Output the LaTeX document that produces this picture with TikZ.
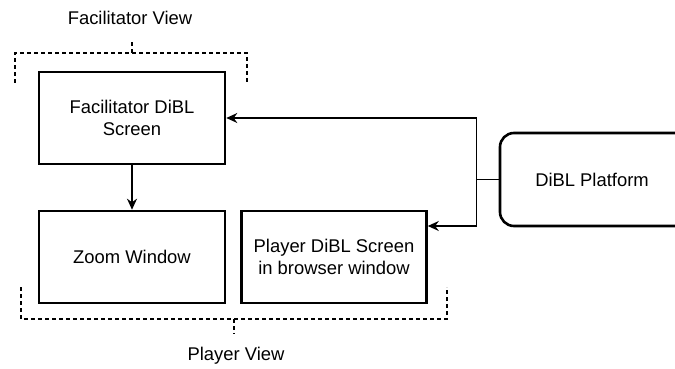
\documentclass[tikz,border=0pt]{standalone}
\usepackage{fontspec}
\setmainfont{Liberation Sans}
\usetikzlibrary{arrows.meta, positioning}

\begin{document}
\begin{tikzpicture}[x=1pt, y=-1pt, on grid, auto,
        screen/.style={draw, line width=2.6pt, minimum width=186pt, minimum height=92pt, align=center},
        platform/.style={screen, rounded corners=14pt, minimum width=200pt, minimum height=93pt},
        link/.style={line width=1.3pt, -{Stealth[length=11pt, width=10pt]}},
        viewline/.style={line width=1.2pt, dash pattern=on 4pt off 3pt}]
        \fontsize{18.4}{22}\selectfont
        \useasboundingbox (0,0) rectangle (675,369);

        \node[screen] (FAC) at (132,118) {Facilitator DiBL\\Screen};
        \node[screen, below=139pt of FAC] (ZOOM) {Zoom Window};
        \node[screen, right=202pt of ZOOM, minimum width=185pt] (PLAYER) {Player DiBL Screen\\in browser window};
        \node[platform] (PLATFORM) at (600,179.5) {\hspace*{-16pt}DiBL Platform};

        \node (FACVIEW) at (130,18) {Facilitator View};
        \node (PLAYERVIEW) at (236,356) {Player View};

        \path[link]
            (FAC) edge (ZOOM);
        \draw[link] (PLATFORM.west) -- ++(-22,0) |- (FAC.east);
        \draw[link] (PLATFORM.west) -- ++(-22,0) |- ([yshift=31pt]PLAYER.east);

        % view brackets
        \draw[viewline] (15,83) -- (15,53) -- (247,53) -- (247,83);
        \draw[viewline] (132,53) -- (132,42);
        \draw[viewline] (21,287) -- (21,319) -- (447,319) -- (447,287);
        \draw[viewline] (234,319) -- (234,334);
\end{tikzpicture}
\end{document}
